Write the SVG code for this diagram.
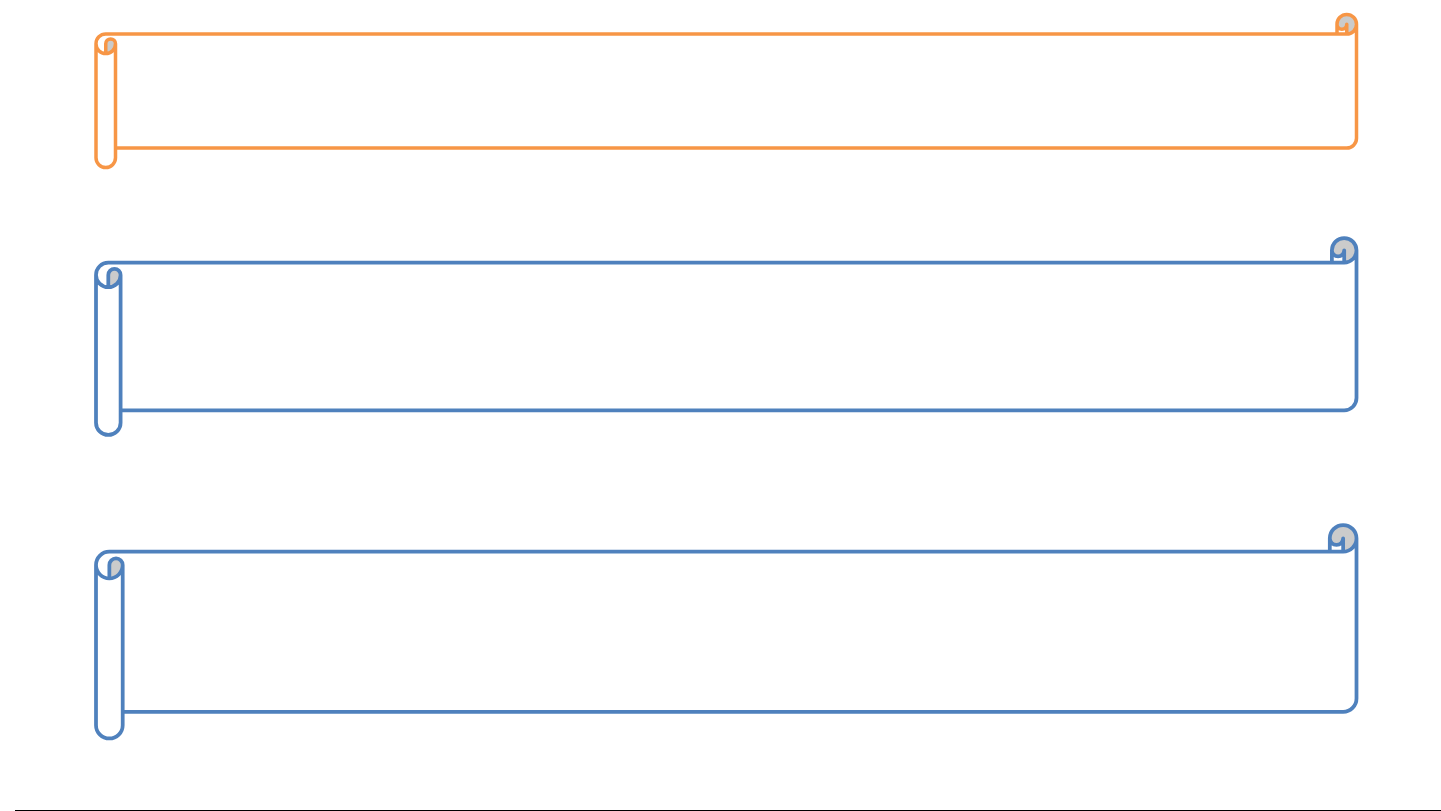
<svg xmlns="http://www.w3.org/2000/svg" width="1441" height="811" viewBox="0 0 1441 811">
<style>
.body{fill:#FFFFFF;stroke:none}
.dark{fill:#CBCBCB;stroke:none}
.ol{fill:none;stroke-linejoin:round;stroke-linecap:round}
.orange .ol{stroke:#F79646;stroke-width:3.5}
.blue .ol{stroke:#4F81BD;stroke-width:3.75}
</style>
<rect x="0" y="0" width="1441" height="811" fill="#FFFFFF"/>
<g id="scroll1" class="orange">
<path class="body" d="M96,43.75 A9.75,9.75 0 0 1 105.75,34 L1337,34 L1337,24.25 A9.75,9.75 0 0 1 1356.5,24.25 L1356.5,138.25 A9.75,9.75 0 0 1 1346.75,148 L115.5,148 L115.5,157.75 A9.75,9.75 0 0 1 96,157.75 Z"/>
<path class="dark" d="M105.75,53.5 A9.75,9.75 0 0 0 115.5,43.75 A4.875,4.875 0 0 0 105.75,43.75 Z"/>
<path class="dark" d="M1346.75,34 A9.75,9.75 0 1 0 1337,24.25 A4.875,4.875 0 0 0 1346.75,24.25 Z"/>
<path class="ol" d="M96,43.75 A9.75,9.75 0 0 1 105.75,34 L1337,34 L1337,24.25 A9.75,9.75 0 0 1 1356.5,24.25 L1356.5,138.25 A9.75,9.75 0 0 1 1346.75,148 L115.5,148 L115.5,157.75 A9.75,9.75 0 0 1 96,157.75 Z M1337,34 L1346.75,34 A9.75,9.75 0 0 0 1356.5,24.25 M1346.75,34 L1346.75,24.25 A4.875,4.875 0 0 1 1337,24.25 M105.75,53.5 L105.75,43.75 A4.875,4.875 0 0 1 115.5,43.75 A9.75,9.75 0 0 1 96,43.75 M115.5,43.75 L115.5,148"/>
</g>
<g id="scroll2" class="blue">
<path class="body" d="M96,274.9 A12.3,12.3 0 0 1 108.3,262.6 L1331.9,262.6 L1331.9,250.3 A12.3,12.3 0 0 1 1356.5,250.3 L1356.5,398.1 A12.3,12.3 0 0 1 1344.2,410.4 L120.6,410.4 L120.6,422.7 A12.3,12.3 0 0 1 96,422.7 Z"/>
<path class="dark" d="M108.3,287.2 A12.3,12.3 0 0 0 120.6,274.9 A6.15,6.15 0 0 0 108.3,274.9 Z"/>
<path class="dark" d="M1344.2,262.6 A12.3,12.3 0 1 0 1331.9,250.3 A6.15,6.15 0 0 0 1344.2,250.3 Z"/>
<path class="ol" d="M96,274.9 A12.3,12.3 0 0 1 108.3,262.6 L1331.9,262.6 L1331.9,250.3 A12.3,12.3 0 0 1 1356.5,250.3 L1356.5,398.1 A12.3,12.3 0 0 1 1344.2,410.4 L120.6,410.4 L120.6,422.7 A12.3,12.3 0 0 1 96,422.7 Z M1331.9,262.6 L1344.2,262.6 A12.3,12.3 0 0 0 1356.5,250.3 M1344.2,262.6 L1344.2,250.3 A6.15,6.15 0 0 1 1331.9,250.3 M108.3,287.2 L108.3,274.9 A6.15,6.15 0 0 1 120.6,274.9 A12.3,12.3 0 0 1 96,274.9 M120.6,274.9 L120.6,410.4"/>
</g>
<g id="scroll3" class="blue">
<path class="body" d="M96,565.05 A13.35,13.35 0 0 1 109.35,551.7 L1329.8,551.7 L1329.8,538.35 A13.35,13.35 0 0 1 1356.5,538.35 L1356.5,698.45 A13.35,13.35 0 0 1 1343.15,711.8 L122.7,711.8 L122.7,725.15 A13.35,13.35 0 0 1 96,725.15 Z"/>
<path class="dark" d="M109.35,578.4 A13.35,13.35 0 0 0 122.7,565.05 A6.675,6.675 0 0 0 109.35,565.05 Z"/>
<path class="dark" d="M1343.15,551.7 A13.35,13.35 0 1 0 1329.8,538.35 A6.675,6.675 0 0 0 1343.15,538.35 Z"/>
<path class="ol" d="M96,565.05 A13.35,13.35 0 0 1 109.35,551.7 L1329.8,551.7 L1329.8,538.35 A13.35,13.35 0 0 1 1356.5,538.35 L1356.5,698.45 A13.35,13.35 0 0 1 1343.15,711.8 L122.7,711.8 L122.7,725.15 A13.35,13.35 0 0 1 96,725.15 Z M1329.8,551.7 L1343.15,551.7 A13.35,13.35 0 0 0 1356.5,538.35 M1343.15,551.7 L1343.15,538.35 A6.675,6.675 0 0 1 1329.8,538.35 M109.35,578.4 L109.35,565.05 A6.675,6.675 0 0 1 122.7,565.05 A13.35,13.35 0 0 1 96,565.05 M122.7,565.05 L122.7,711.8"/>
</g>
<g id="connectors"/>
<line x1="15" y1="810.5" x2="1441" y2="810.5" stroke="#000000" stroke-width="1"/>
</svg>
